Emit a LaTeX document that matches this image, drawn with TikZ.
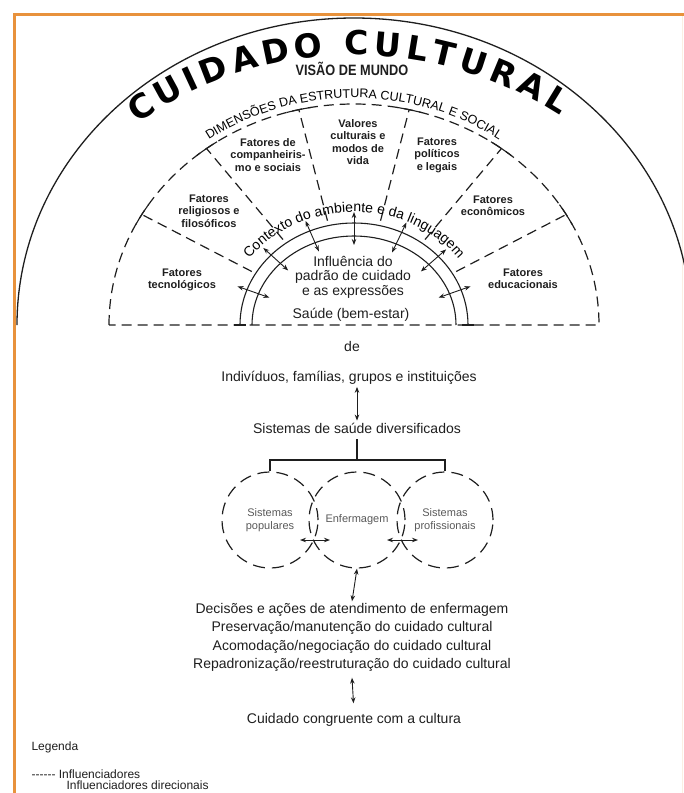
\documentclass[tikz,border=0pt]{standalone}
\usepackage{fontspec}
\setmainfont{Liberation Sans}
\newfontfamily\titlefont{DejaVu Sans}
\usepackage{xcolor, tikz, graphicx}
\usetikzlibrary{calc,arrows.meta}
\usetikzlibrary{decorations.text,positioning}
\definecolor{frameorange}{RGB}{232,146,60}
\definecolor{ink}{RGB}{30,30,30}

\begin{document}
\begin{tikzpicture}[x=1pt, y=1pt, >={Stealth[length=6pt,width=4.5pt]}, ink,
	font=\fontsize{14}{14.5}\selectfont,
	infl/.style={line width=1.2pt, dash pattern=on 10pt off 6pt},
	ring/.style={line width=1.1pt},
	dirarr/.style={<->, line width=0.9pt},
	fator/.style={font=\fontsize{11}{12.5}\selectfont\bfseries, align=center},
	sistema/.style={circle, draw, infl, dash pattern=on 12pt off 7pt, minimum size=96pt, inner sep=0pt,
		align=center, font=\fontsize{11}{12.5}\selectfont, text=black!65},
	texto/.style={align=center, inner sep=2pt},
	legtext/.style={anchor=west, font=\fontsize{12}{12}\selectfont}]
	\useasboundingbox (0,0) rectangle (684,-793);
	\clip (0,0) rectangle (684,-793);
	%frame
	\draw[frameorange, line width=3pt] (14,-800) -- (14,-14) -- (690,-14);
	\draw[frameorange!15, line width=1pt] (682,-16) -- (682,-800);

	\coordinate (O) at (354,-325);
	\coordinate (T) at (354,-433);

	%world view
	\draw[line width=1.3pt] ([shift=(180:337 and 307)]O) arc (180:0:337 and 307);
	\path[decorate, decoration={text along path, text align={fit to path},
		text={|\titlefont\bfseries\fontsize{33}{33}\selectfont|CUIDADO CULTURAL}}]
		([shift=(125:378)]T) arc (125:57:378);
	\node[font=\fontsize{15}{15}\selectfont\bfseries] (visao) at (352,-69) {\scalebox{0.85}[1]{VISÃO DE MUNDO}};

	%dimensions
	\draw[infl] ([shift=(180:245 and 221)]O) arc (180:0:245 and 221) -- cycle;
	\foreach \a in {30,53,77,103,127,150}{
		\draw[infl] ([shift=(\a:118 and 107)]O) -- ([shift=(\a:245 and 221)]O);
		\draw[ring] ([shift=(\a-3:245 and 221)]O) arc[start angle=\a-3, delta angle=6, x radius=245, y radius=221];
	}
	\path[decorate, decoration={text along path, text align=center,
		text={|\fontsize{12.5}{12.5}\selectfont|DIMENSÕES DA ESTRUTURA CULTURAL E SOCIAL}}]
		([shift=(150:251 and 227)]O) arc (150:30:251 and 227);

	\node[fator] (tec) at (182,-280) {Fatores\\tecnológicos};
	\node[fator] (rel) at (209,-211) {Fatores\\religiosos e\\filosóficos};
	\node[fator] (comp) at (268,-155) {Fatores de\\companheiris-\\mo e sociais};
	\node[fator] (val) at (358,-142) {Valores\\culturais e\\modos de\\vida};
	\node[fator] (pol) at (437,-155) {Fatores\\políticos\\e legais};
	\node[fator] (eco) at (493,-206) {Fatores\\econômicos};
	\node[fator] (edu) at (523,-279) {Fatores\\educacionais};

	%context rings
	\draw[ring] ([shift=(180:114 and 102)]O) arc (180:0:114 and 102);
	\draw[ring] ([shift=(180:102 and 89)]O) arc (180:0:102 and 89);
	\draw[ring] ([shift=(180:120 and 0)]O) -- ++(12,0);
	\draw[ring] ([shift=(0:108 and 0)]O) -- ++(12,0);
	\path[decorate, decoration={text along path, text align=center,
		text={|\fontsize{14}{14}\selectfont|Contexto do ambiente e da linguagem}}]
		([shift=(165:129 and 113)]O) arc (165:15:129 and 113);
	\foreach \a in {160,137,113,90,65,42,20}
		\draw[dirarr] ([shift=(\a:90 and 80)]O) -- ([shift=(\a:124 and 113)]O);

	\node[texto] (padrao) at (353,-277) {Influência do\\padrão de cuidado\\e as expressões};
	\node[texto] (saude) at (351,-315) {Saúde (bem-estar)};

	%care systems
	\node[texto] (de) at (352,-346) {de};
	\node[texto] (indiv) at (349,-378) {Indivíduos, famílias, grupos e instituições};
	\node[texto] (sistemas) at (357,-428) {Sistemas de saúde diversificados};
	\draw[dirarr] (indiv.south -| sistemas) -- (sistemas.north);

	\coordinate (ramo) at (357,-460);
	\node[sistema] (pop) at (270,-520) {Sistemas\\populares};
	\node[sistema] (enf) at (357,-520) {Enfermagem};
	\node[sistema] (prof) at (445,-520) {Sistemas\\profissionais};
	\draw[ring] ([yshift=-4pt]sistemas.south) -- (ramo);
	\draw[ring] (pop.north) |- (ramo) -| (prof.north);
	\draw[dirarr] ([shift={(30,-20)}]pop.center) -- ([shift={(-27,-20)}]enf.center);
	\draw[dirarr] ([shift={(30,-20)}]enf.center) -- ([shift={(-27,-20)}]prof.center);

	%nursing decisions
	\node[texto, font=\fontsize{14}{18.3}\selectfont] (decisoes) at (352,-637.5)
		{Decisões e ações de atendimento de enfermagem\\Preservação/manutenção do cuidado cultural\\Acomodação/negociação do cuidado cultural\\Repadronização/reestruturação do cuidado cultural};
	\draw[dirarr] (enf.south) -- (decisoes.north);
	\node[texto] (congruente) at (354,-720) {Cuidado congruente com a cultura};
	\draw[dirarr, shorten >=8pt] ([yshift=-4pt]decisoes.south) -- (congruente.north);

	%legend
	\node[legtext] (legenda) at (28,-747) {Legenda};
	\node[legtext] (leginfl) at (28,-774) {{-}{-}{-}{-}{-}{-} Influenciadores};
	\node[legtext] (legdir) at (63,-785) {Influenciadores direcionais};
\end{tikzpicture}
\end{document}
